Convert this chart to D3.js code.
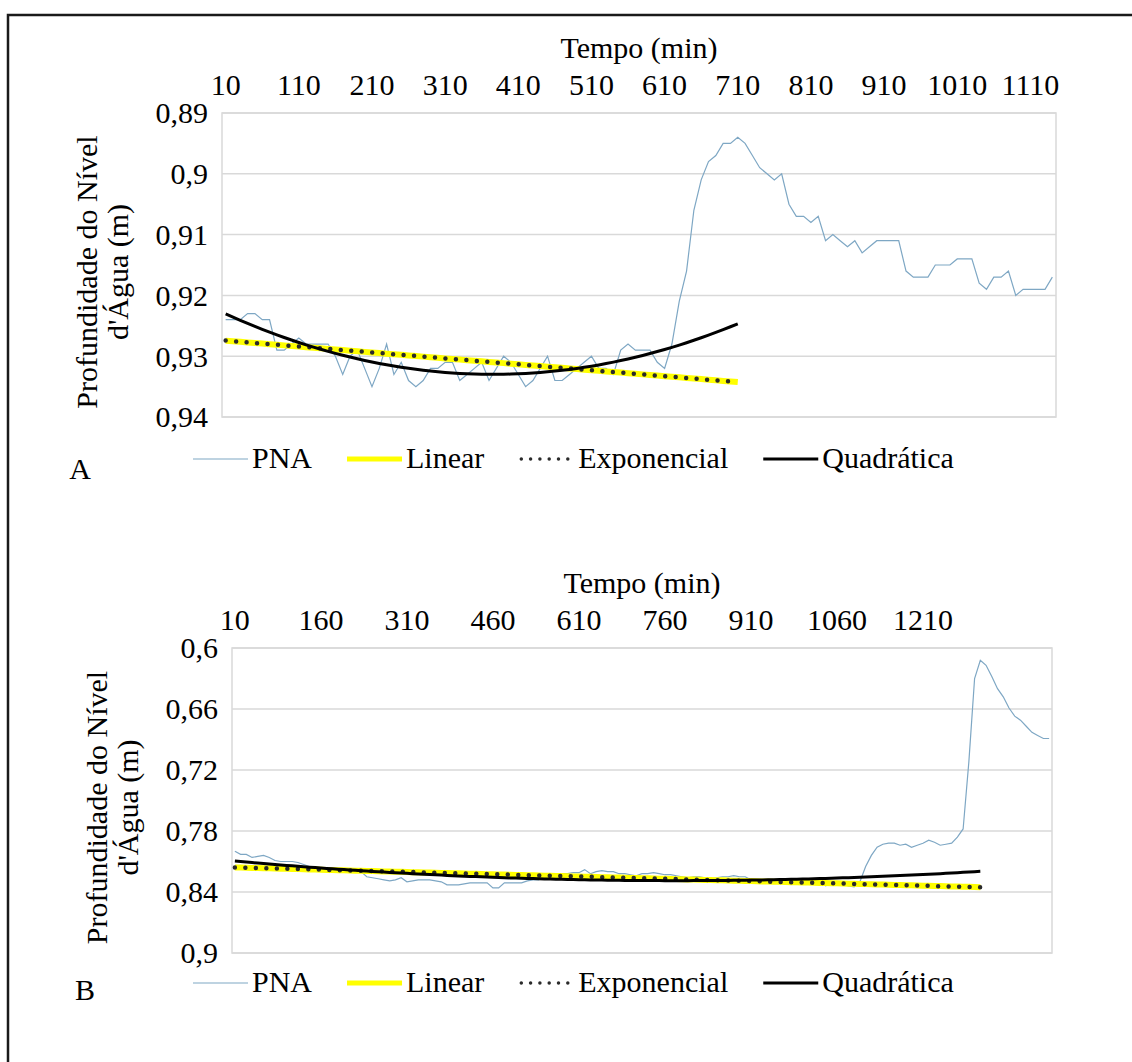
<!DOCTYPE html>
<html>
<head>
<meta charset="utf-8">
<title>Profundidade do Nível d'Água</title>
<script src="https://d3js.org/d3.v7.min.js"></script>
<style>
    body {
        margin: 0;
        background: #fff;
    }
    svg {
        display: block;
    }
    .grid line, .plot-border {
        stroke: #d9d9d9;
        stroke-width: 1.5;
        fill: none;
    }
    .lbl {
        font-family: "Liberation Serif", "Times New Roman", "DejaVu Serif", serif;
        font-size: 30px;
        fill: #000;
    }
</style>
</head>
<body>
<svg width="1132" height="1062"></svg>
<script>
// ---- data, panel A ----
const tempoA = [
    10, 20, 30, 40, 50, 60, 70, 80, 90, 100,
    110, 120, 130, 140, 150, 160, 170, 180, 190, 200,
    210, 220, 230, 240, 250, 260, 270, 280, 290, 300,
    310, 320, 330, 340, 350, 360, 370, 380, 390, 400,
    410, 420, 430, 440, 450, 460, 470, 480, 490, 500,
    510, 520, 530, 540, 550, 560, 570, 580, 590, 600,
    610, 620, 630, 640, 650, 660, 670, 680, 690, 700,
    710, 720, 730, 740, 750, 760, 770, 780, 790, 800,
    810, 820, 830, 840, 850, 860, 870, 880, 890, 900,
    910, 920, 930, 940, 950, 960, 970, 980, 990, 1000,
    1010, 1020, 1030, 1040, 1050, 1060, 1070, 1080, 1090, 1100,
    1110, 1120, 1130, 1140
];
const pnaA = [
    0.924, 0.924, 0.924, 0.923, 0.923, 0.924, 0.924, 0.929, 0.929, 0.928,
    0.927, 0.928, 0.928, 0.928, 0.928, 0.930, 0.933, 0.930, 0.929, 0.932,
    0.935, 0.932, 0.928, 0.933, 0.931, 0.934, 0.935, 0.934, 0.932, 0.932,
    0.931, 0.931, 0.934, 0.933, 0.932, 0.931, 0.934, 0.932, 0.930, 0.931,
    0.933, 0.935, 0.934, 0.932, 0.930, 0.934, 0.934, 0.933, 0.932, 0.931,
    0.930, 0.932, 0.932, 0.933, 0.929, 0.928, 0.929, 0.929, 0.929, 0.931,
    0.932, 0.928, 0.921, 0.916, 0.906, 0.901, 0.898, 0.897, 0.895, 0.895,
    0.894, 0.895, 0.897, 0.899, 0.900, 0.901, 0.900, 0.905, 0.907, 0.907,
    0.908, 0.907, 0.911, 0.910, 0.911, 0.912, 0.911, 0.913, 0.912, 0.911,
    0.911, 0.911, 0.911, 0.916, 0.917, 0.917, 0.917, 0.915, 0.915, 0.915,
    0.914, 0.914, 0.914, 0.918, 0.919, 0.917, 0.917, 0.916, 0.920, 0.919,
    0.919, 0.919, 0.919, 0.917
];
const ticksXA = [10, 110, 210, 310, 410, 510, 610, 710, 810, 910, 1010, 1110];
const ticksYA = [0.89, 0.9, 0.91, 0.92, 0.93, 0.94];
const fitEndA = 610;    // trend fitted up to this time
const trendEndA = 710;  // trend drawn up to this time

// ---- data, panel B ----
const tempoB = [
    10, 20, 30, 40, 50, 60, 70, 80, 90, 100,
    110, 120, 130, 140, 150, 160, 170, 180, 190, 200,
    210, 220, 230, 240, 250, 260, 270, 280, 290, 300,
    310, 320, 330, 340, 350, 360, 370, 380, 390, 400,
    410, 420, 430, 440, 450, 460, 470, 480, 490, 500,
    510, 520, 530, 540, 550, 560, 570, 580, 590, 600,
    610, 620, 630, 640, 650, 660, 670, 680, 690, 700,
    710, 720, 730, 740, 750, 760, 770, 780, 790, 800,
    810, 820, 830, 840, 850, 860, 870, 880, 890, 900,
    910, 920, 930, 940, 950, 960, 970, 980, 990, 1000,
    1010, 1020, 1030, 1040, 1050, 1060, 1070, 1080, 1090, 1100,
    1110, 1120, 1130, 1140, 1150, 1160, 1170, 1180, 1190, 1200,
    1210, 1220, 1230, 1240, 1250, 1260, 1270, 1280, 1290, 1300,
    1310, 1320, 1330, 1340, 1350, 1360, 1370, 1380, 1390, 1400,
    1410, 1420, 1430
];
const pnaB = [
    0.800, 0.803, 0.803, 0.806, 0.805, 0.804, 0.806, 0.809, 0.810, 0.810,
    0.810, 0.811, 0.813, 0.815, 0.816, 0.817, 0.818, 0.819, 0.820, 0.820,
    0.819, 0.819, 0.820, 0.825, 0.826, 0.827, 0.828, 0.829, 0.828, 0.826,
    0.830, 0.829, 0.828, 0.828, 0.828, 0.829, 0.830, 0.833, 0.833, 0.833,
    0.832, 0.831, 0.831, 0.831, 0.831, 0.836, 0.836, 0.831, 0.831, 0.831,
    0.831, 0.829, 0.828, 0.828, 0.823, 0.823, 0.822, 0.822, 0.822, 0.821,
    0.821, 0.818, 0.822, 0.820, 0.819, 0.820, 0.820, 0.822, 0.822, 0.823,
    0.824, 0.822, 0.822, 0.821, 0.822, 0.823, 0.823, 0.824, 0.825, 0.826,
    0.825, 0.825, 0.826, 0.827, 0.826, 0.825, 0.825, 0.824, 0.825, 0.825,
    0.828, 0.829, 0.829, 0.830, 0.830, 0.830, 0.830, 0.830, 0.829, 0.829,
    0.829, 0.830, 0.830, 0.834, 0.832, 0.831, 0.832, 0.834, 0.835, 0.830,
    0.815, 0.804, 0.796, 0.793, 0.792, 0.792, 0.794, 0.793, 0.796, 0.794,
    0.792, 0.789, 0.791, 0.794, 0.793, 0.792, 0.786, 0.778, 0.712, 0.630,
    0.612, 0.617, 0.628, 0.640, 0.648, 0.659, 0.667, 0.671, 0.677, 0.683,
    0.686, 0.689, 0.689
];
const ticksXB = [10, 160, 310, 460, 610, 760, 910, 1060, 1210];
const ticksYB = [0.6, 0.66, 0.72, 0.78, 0.84, 0.9];
const fitEndB = 1090;
const trendEndB = 1310;

const legendNames = ["PNA", "Linear", "Exponencial", "Quadrática"];

const svg = d3.select("svg");
const fmt = d3.formatLocale({decimal: ",", thousands: ".", grouping: [3], currency: ["", ""]}).format("~g");

// outer frame (top + left only)
svg.append("path")
    .attr("d", "M8,1062V15H1132")
    .attr("fill", "none")
    .attr("stroke", "#1a1a1a")
    .attr("stroke-width", 2.5);

// least squares polynomial fit (x = 1..n like Excel)
function polyFit(xs, ys, deg) {
    const n = deg + 1;
    const A = d3.range(n).map(() => new Array(n + 1).fill(0));
    xs.forEach((x, k) => {
        for (let r = 0; r < n; r++) {
            for (let c = 0; c < n; c++) A[r][c] += Math.pow(x, r + c);
            A[r][n] += ys[k] * Math.pow(x, r);
        }
    });
    for (let i = 0; i < n; i++) {
        for (let r = 0; r < n; r++) {
            if (r === i) continue;
            const f = A[r][i] / A[i][i];
            for (let c = i; c <= n; c++) A[r][c] -= f * A[i][c];
        }
    }
    return A.map((row, i) => row[n] / row[i]);
}

function drawPanel(p) {
    const g = svg.append("g");
    const x = d3.scaleBand().domain(p.tempo).range([p.left, p.right]).padding(0);
    const y = d3.scaleLinear().domain(p.yDomain).range([p.top, p.bottom]);
    const cx = t => x(t) + x.bandwidth() / 2;

    // gridlines
    g.append("g").attr("class", "grid")
        .selectAll("line").data(p.ticksY).join("line")
        .attr("x1", p.left).attr("x2", p.right)
        .attr("y1", d => y(d)).attr("y2", d => y(d));
    g.append("rect").attr("class", "plot-border")
        .attr("x", p.left).attr("y", p.top)
        .attr("width", p.right - p.left).attr("height", p.bottom - p.top);

    // axes
    const ax = g.append("g")
        .attr("transform", `translate(0,${p.top})`)
        .call(d3.axisTop(x).tickValues(p.ticksX).tickSize(0).tickPadding(18));
    const ay = g.append("g")
        .attr("transform", `translate(${p.left},0)`)
        .call(d3.axisLeft(y).tickValues(p.ticksY).tickSize(0).tickPadding(14).tickFormat(fmt));
    [ax, ay].forEach(a => {
        a.select(".domain").remove();
        a.attr("font-size", null).attr("font-family", null);
        a.selectAll("text").attr("class", "lbl");
    });
    ay.selectAll("text").attr("dy", "0.33em");

    g.append("text").attr("class", "lbl")
        .attr("x", (p.left + p.right) / 2).attr("y", p.top - 55)
        .attr("text-anchor", "middle").text("Tempo (min)");

    const yc = (p.top + p.bottom) / 2 + 7;
    ["Profundidade do Nível", "d'Água (m)"].forEach((t, i) => {
        g.append("text").attr("class", "lbl")
            .attr("text-anchor", "middle")
            .attr("transform", `translate(${p.left - 125 + i * 31},${yc}) rotate(-90)`)
            .text(t);
    });

    // PNA series
    const pts = p.tempo.map((t, i) => [t, p.pna[i]]);
    const line = d3.line().x(d => cx(d[0])).y(d => y(d[1]));
    g.append("path").datum(pts)
        .attr("fill", "none").attr("stroke", "#7ea7c4").attr("stroke-width", 1.2)
        .attr("d", line);

    // trend lines
    const fitPts = pts.filter(d => d[0] <= p.fitEnd);
    const xs = fitPts.map((d, i) => i + 1);
    const lin = polyFit(xs, fitPts.map(d => d[1]), 1);
    const expo = polyFit(xs, fitPts.map(d => Math.log(d[1])), 1);
    const quad = polyFit(xs, fitPts.map(d => d[1]), 2);
    const trendT = p.tempo.filter(t => t <= p.trendEnd);
    const trend = f => trendT.map((t, i) => [t, f(i + 1)]);

    g.append("path").datum(trend(k => lin[0] + lin[1] * k))
        .attr("fill", "none").attr("stroke", "#ffff00").attr("stroke-width", 6)
        .attr("d", line);
    g.append("path").datum(trend(k => Math.exp(expo[0] + expo[1] * k)))
        .attr("fill", "none").attr("stroke", "#2a2a2a").attr("stroke-width", 4.5)
        .attr("stroke-linecap", "round").attr("stroke-dasharray", "0 10.5")
        .attr("d", line);
    g.append("path").datum(trend(k => quad[0] + quad[1] * k + quad[2] * k * k))
        .attr("fill", "none").attr("stroke", "#000").attr("stroke-width", 3)
        .attr("d", line);

    // legend
    const lg = g.append("g").attr("transform", `translate(0,${p.legendY})`);
    let lx = 193;
    legendNames.forEach((name, i) => {
        const s = lg.append("line").attr("x1", lx).attr("x2", lx + 55).attr("y1", 0).attr("y2", 0);
        if (i === 0) s.attr("stroke", "#7ea7c4").attr("stroke-width", 1.2);
        if (i === 1) s.attr("stroke", "#ffff00").attr("stroke-width", 5);
        if (i === 2) s.attr("x1", lx + 2).attr("stroke", "#2a2a2a").attr("stroke-width", 3.5)
            .attr("stroke-linecap", "round").attr("stroke-dasharray", "0 9.3");
        if (i === 3) s.attr("stroke", "#000").attr("stroke-width", 3);
        const t = lg.append("text").attr("class", "lbl")
            .attr("x", lx + 59).attr("y", 9).text(name);
        lx += 59 + t.node().getComputedTextLength() + 35;
    });

    g.append("text").attr("class", "lbl")
        .attr("x", p.letterX).attr("y", p.letterY)
        .attr("text-anchor", "middle").text(p.letter);
}

drawPanel({
    tempo: tempoA, pna: pnaA, ticksX: ticksXA, ticksY: ticksYA,
    yDomain: [0.89, 0.94], fitEnd: fitEndA, trendEnd: trendEndA,
    left: 222, right: 1056, top: 113, bottom: 417,
    legendY: 459, letter: "A", letterX: 80, letterY: 479
});
drawPanel({
    tempo: tempoB, pna: pnaB, ticksX: ticksXB, ticksY: ticksYB,
    yDomain: [0.6, 0.9], fitEnd: fitEndB, trendEnd: trendEndB,
    left: 232, right: 1052, top: 648, bottom: 953,
    legendY: 983, letter: "B", letterX: 85, letterY: 1000
});
</script>
</body>
</html>
